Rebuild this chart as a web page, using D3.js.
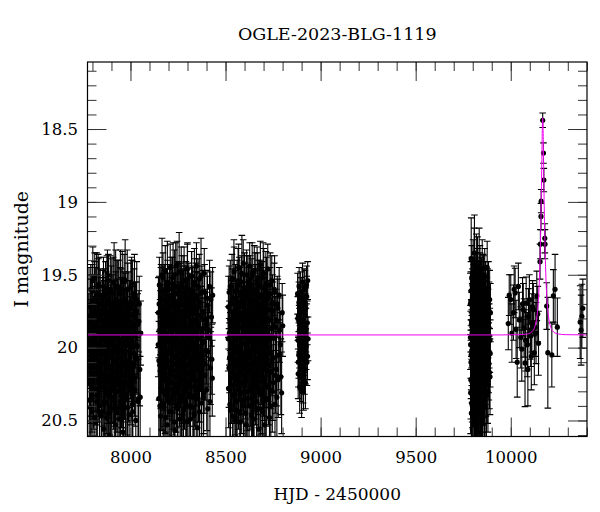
<!DOCTYPE html>
<html><head><meta charset="utf-8">
<script src="https://cdn.jsdelivr.net/npm/d3@7"></script>
<style>body{margin:0;background:#fff} svg{display:block} text{font-family:"DejaVu Serif",serif;fill:#000}</style>
</head><body><svg id="c" width="600" height="512"></svg>
<script>
const title = "OGLE-2023-BLG-1119";
const xLabel = "HJD - 2450000";
const yLabel = "I magnitude";
const xMajorTicks = [8000, 8500, 9000, 9500, 10000];
const yMajorTicks = [18.5, 19, 19.5, 20, 20.5];

// [HJD-2450000, I mag, error]
const season1 = [[7781,19.83,.20],[7783,20.36,.28],[7786,19.95,.22],[7788,20.21,.26],[7790,19.72,.19],[7792,20.05,.23],[7795,19.88,.21],[7797,20.44,.30],[7799,19.61,.18],[7801,20.12,.25],[7803,19.93,.22],[7806,20.29,.27],[7808,19.78,.20],[7810,20.02,.23],[7812,19.52,.17],[7814,20.18,.26],[7816,19.86,.21],[7819,20.51,.32],[7821,19.97,.22],[7823,19.69,.19],[7825,20.33,.28],[7827,19.90,.21],[7829,20.08,.24],[7831,19.57,.18],[7833,20.24,.27],[7835,19.81,.20],[7837,20.40,.30],[7839,19.99,.22],[7841,19.64,.18],[7843,20.15,.25],[7845,19.75,.20],[7847,20.47,.31],[7849,19.91,.22],[7851,20.27,.27],[7853,19.66,.19],[7855,20.04,.23],[7857,19.85,.21],[7859,20.56,.33],[7861,19.73,.19],[7863,20.19,.26],[7865,19.94,.22],[7867,20.38,.29],[7869,19.59,.18],[7871,20.10,.24],[7873,19.80,.20],[7875,20.31,.28],[7877,19.96,.22],[7879,19.50,.17],[7881,20.22,.26],[7883,19.87,.21],[7885,20.45,.30],[7887,19.70,.19],[7889,20.06,.24],[7891,19.92,.22],[7893,20.60,.34],[7895,19.77,.20],[7897,20.14,.25],[7899,19.62,.18],[7901,20.34,.29],[7903,19.98,.22],[7905,19.84,.21],[7907,20.25,.27],[7909,19.55,.17],[7911,20.09,.24],[7913,19.89,.21],[7915,20.42,.30],[7917,19.74,.20],[7919,20.01,.23],[7921,20.53,.32],[7923,19.67,.19],[7925,20.17,.25],[7927,19.93,.22],[7929,20.30,.28],[7931,19.79,.20],[7933,19.58,.18],[7935,20.20,.26],[7937,19.95,.22],[7939,20.49,.31],[7941,19.82,.21],[7943,20.07,.24],[7946,19.63,.18],[7948,20.37,.29],[7950,19.90,.22],[7952,20.13,.25],[7954,19.71,.19],[7956,20.28,.27],[7958,19.97,.22],[7960,20.58,.33],[7962,19.76,.20],[7964,20.03,.23],[7967,19.53,.17],[7969,20.23,.26],[7971,19.88,.21],[7973,20.41,.30],[7975,19.68,.19],[7977,20.11,.25],[7980,19.94,.22],[7982,20.32,.28],[7984,19.80,.20],[7986,19.60,.18],[7989,20.16,.25],[7991,19.91,.22],[7993,20.46,.31],[7996,19.73,.19],[7998,20.05,.23],[8001,19.86,.21],[8003,20.26,.27],[8006,19.56,.18],[8008,20.00,.23],[8011,20.39,.29],[8013,19.78,.20],[8016,20.12,.25],[8019,19.65,.19],[8022,20.21,.26],[8025,19.92,.22],[8028,20.50,.32],[8031,19.75,.20],[8034,20.08,.24],[8038,19.84,.21],[8042,20.35,.29],[8046,19.70,.19],[8051,20.34,.28],[8054,19.90,.22]];

const season1b = [[7780,20.02,.24],[7782,19.71,.26],[7785,20.25,.27],[7787,19.88,.21],[7789,20.41,.35],[7791,19.60,.17],[7794,20.13,.22],[7796,19.79,.29],[7798,20.33,.25],[7800,19.94,.19],[7802,19.54,.23],[7805,20.19,.30],[7807,19.85,.18],[7809,20.48,.34],[7811,19.67,.26],[7813,20.07,.20],[7815,19.76,.31],[7818,20.29,.24],[7820,19.99,.21],[7822,19.63,.28],[7824,20.37,.27],[7826,19.82,.16],[7828,20.10,.33],[7830,19.58,.22],[7832,20.22,.25],[7834,19.91,.20],[7836,19.70,.32],[7838,20.44,.29],[7840,19.87,.24],[7842,20.04,.19],[7846,20.04,.26],[7848,19.87,.22],[7850,20.44,.31],[7852,19.70,.18],[7854,19.91,.27],[7856,20.22,.23],[7858,19.58,.20],[7860,20.10,.29],[7862,19.82,.24],[7864,20.37,.34],[7866,19.63,.17],[7868,19.99,.25],[7870,20.29,.21],[7872,19.76,.28],[7874,20.07,.19],[7876,19.67,.30],[7878,20.48,.26],[7880,19.85,.22],[7882,20.19,.33],[7884,19.54,.18],[7886,19.94,.24],[7888,20.33,.27],[7890,19.79,.20],[7892,20.13,.31],[7894,19.60,.23],[7896,20.41,.29],[7898,19.88,.19],[7900,20.25,.26],[7902,19.71,.32],[7904,20.02,.21],[7906,20.07,.24],[7908,19.76,.26],[7910,20.29,.27],[7912,19.99,.21],[7914,19.63,.35],[7916,20.37,.17],[7918,19.82,.22],[7920,20.10,.29],[7922,19.58,.25],[7924,20.22,.19],[7926,19.91,.23],[7928,19.70,.30],[7930,20.44,.18],[7932,19.87,.34],[7934,20.04,.26],[7936,20.02,.20],[7938,19.71,.31],[7940,20.25,.24],[7942,19.88,.21],[7944,20.41,.28],[7947,19.60,.27],[7949,20.13,.16],[7951,19.79,.33],[7953,20.33,.22],[7955,19.94,.25],[7957,19.54,.20],[7959,20.19,.32],[7961,19.85,.29],[7963,20.48,.24],[7965,19.67,.19],[7968,19.85,.25],[7970,20.19,.21],[7972,19.54,.28],[7974,19.94,.22],[7976,20.33,.30],[7979,19.79,.19],[7981,20.13,.24],[7983,19.60,.27],[7985,20.41,.33],[7988,19.88,.20],[7990,20.25,.26],[7992,19.71,.23],[7995,20.02,.29],[7997,19.82,.21],[8000,20.10,.25],[8002,19.58,.18],[8005,20.22,.28],[8007,19.91,.22],[8010,19.70,.30],[8012,20.44,.32],[8015,19.87,.24],[8018,20.04,.20],[8021,19.63,.27],[8024,20.29,.25],[8027,19.76,.21],[8030,20.07,.24],[8033,19.67,.26],[8036,19.99,.22],[8040,20.37,.29],[8044,19.82,.21],[8049,20.15,.25]];

const season2 = [[8146,19.98,.22],[8149,20.35,.28],[8151,19.70,.19],[8154,20.12,.24],[8156,19.88,.21],[8158,20.47,.31],[8161,19.61,.18],[8163,20.05,.23],[8165,19.79,.20],[8167,20.30,.27],[8169,19.93,.22],[8171,19.52,.17],[8173,20.18,.25],[8175,19.84,.21],[8177,20.41,.30],[8179,19.68,.19],[8181,20.00,.23],[8183,19.47,.17],[8185,20.30,.28],[8187,19.90,.22],[8189,20.09,.24],[8191,19.74,.20],[8193,20.53,.32],[8195,19.58,.18],[8197,20.21,.26],[8199,19.96,.22],[8201,19.81,.21],[8203,20.37,.29],[8205,19.65,.19],[8207,20.14,.25],[8209,19.45,.16],[8211,20.02,.23],[8213,19.87,.21],[8215,20.44,.30],[8217,19.72,.20],[8219,20.24,.26],[8221,19.56,.18],[8223,19.94,.22],[8225,20.32,.28],[8227,19.77,.20],[8229,20.07,.24],[8231,19.50,.17],[8233,20.57,.33],[8235,19.85,.21],[8237,20.16,.25],[8239,19.63,.18],[8241,19.99,.22],[8243,20.28,.27],[8245,19.43,.16],[8247,19.91,.22],[8249,20.39,.29],[8251,19.75,.20],[8253,20.11,.24],[8255,19.59,.18],[8257,20.20,.26],[8259,19.83,.21],[8261,20.49,.31],[8263,19.69,.19],[8265,20.03,.23],[8267,19.48,.17],[8269,20.33,.28],[8271,19.89,.22],[8273,19.66,.19],[8275,20.13,.25],[8277,19.97,.22],[8279,20.43,.30],[8281,19.54,.17],[8283,20.23,.26],[8285,19.80,.20],[8287,20.06,.24],[8289,19.62,.18],[8291,20.36,.29],[8293,19.92,.22],[8295,19.73,.20],[8297,20.17,.25],[8299,19.46,.17],[8301,20.51,.32],[8303,19.86,.21],[8305,20.01,.23],[8307,19.60,.18],[8309,20.27,.27],[8311,19.95,.22],[8313,19.71,.19],[8315,20.40,.30],[8317,19.82,.21],[8319,20.10,.24],[8321,19.51,.17],[8323,20.22,.26],[8325,19.88,.21],[8327,19.64,.19],[8329,20.34,.28],[8331,19.98,.22],[8333,19.76,.20],[8335,20.46,.31],[8337,19.57,.18],[8339,20.08,.24],[8341,19.90,.22],[8343,20.29,.27],[8345,19.67,.19],[8347,19.44,.16],[8349,20.15,.25],[8352,19.84,.21],[8354,20.55,.33],[8357,19.72,.20],[8359,20.04,.23],[8362,19.53,.17],[8364,20.25,.26],[8367,19.94,.22],[8370,19.78,.20],[8373,20.38,.29],[8376,19.62,.18],[8379,20.12,.24],[8382,19.87,.21],[8385,20.31,.28],[8388,19.49,.17],[8391,20.19,.26],[8395,19.81,.21],[8399,20.02,.23],[8403,19.66,.19],[8407,20.42,.30],[8411,19.93,.22],[8416,19.58,.18],[8421,20.14,.25],[8426,19.79,.20],[8430,20.21,.26],[8432,19.64,.19]];

const season2b = [[8147,19.76,.24],[8150,20.09,.27],[8152,19.57,.19],[8155,20.40,.32],[8157,19.83,.22],[8159,20.16,.26],[8160,19.66,.21],[8162,20.27,.29],[8164,19.95,.23],[8166,19.50,.25],[8168,20.06,.24],[8170,19.74,.30],[8172,20.38,.28],[8174,19.89,.20],[8176,20.21,.33],[8178,19.61,.18],[8180,19.99,.25],[8182,20.32,.27],[8184,19.79,.22],[8186,20.48,.34],[8188,19.68,.19],[8190,20.12,.26],[8192,19.92,.21],[8194,19.55,.28],[8196,20.25,.24],[8198,19.85,.20],[8200,20.03,.31],[8202,19.72,.23],[8204,20.44,.29],[8206,19.60,.17],[8208,20.18,.25],[8210,19.88,.22],[8212,20.35,.30],[8214,19.64,.26],[8216,20.00,.19],[8218,19.77,.33],[8220,20.29,.27],[8222,19.97,.21],[8224,19.52,.24],[8226,20.11,.28],[8228,19.82,.22],[8230,20.51,.32],[8232,19.69,.20],[8234,20.20,.25],[8236,19.93,.23],[8238,19.58,.30],[8240,20.31,.27],[8242,19.86,.18],[8244,20.05,.24],[8246,19.73,.29],[8248,20.42,.31],[8250,19.62,.21],[8252,20.15,.26],[8254,19.90,.22],[8256,19.48,.27],[8258,20.26,.28],[8260,19.80,.20],[8262,20.08,.33],[8264,19.66,.24],[8266,20.36,.27],[8268,19.96,.22],[8270,19.56,.19],[8272,20.22,.30],[8274,19.84,.21],[8276,20.46,.34],[8278,19.71,.25],[8280,20.01,.23],[8282,19.59,.28],[8284,20.30,.26],[8286,19.91,.20],[8288,19.75,.31],[8290,20.17,.24],[8292,19.63,.22],[8294,20.39,.29],[8296,19.87,.21],[8298,20.04,.27],[8300,19.53,.25],[8302,20.24,.26],[8304,19.78,.32],[8306,20.12,.23],[8308,19.94,.22],[8310,19.67,.18],[8312,20.33,.28],[8314,19.83,.24],[8316,20.49,.33],[8318,19.70,.20],[8320,20.07,.25],[8322,19.61,.27],[8324,20.19,.26],[8326,19.98,.21],[8328,19.74,.30],[8330,20.41,.29],[8332,19.88,.22],[8334,20.02,.24],[8336,19.55,.23],[8338,20.27,.27],[8340,19.81,.20],[8342,20.13,.31],[8344,19.64,.22],[8346,20.35,.28],[8348,19.92,.21],[8350,19.73,.25],[8353,20.09,.26],[8355,19.58,.19],[8358,20.23,.28],[8360,19.86,.22],[8363,20.44,.32],[8365,19.69,.20],[8368,20.06,.24],[8371,19.51,.26],[8374,20.18,.27],[8377,19.90,.21],[8380,19.76,.29],[8383,20.34,.28],[8386,19.96,.22],[8390,19.62,.19],[8393,20.11,.25],[8397,19.84,.22],[8401,20.29,.28],[8405,19.71,.20],[8409,20.03,.24],[8413,19.88,.21],[8418,20.37,.30],[8423,19.67,.19],[8428,20.08,.24]];

const season3 = [[8514,19.94,.22],[8516,20.28,.27],[8519,19.62,.18],[8521,20.07,.24],[8524,19.81,.21],[8526,20.43,.30],[8529,19.70,.19],[8531,20.15,.25],[8534,19.53,.17],[8536,19.96,.22],[8538,20.33,.28],[8541,19.76,.20],[8543,20.02,.23],[8545,19.48,.17],[8547,20.21,.26],[8549,19.89,.22],[8551,20.50,.32],[8553,19.66,.19],[8555,20.11,.24],[8557,19.84,.21],[8559,20.37,.29],[8561,19.58,.18],[8563,19.99,.22],[8565,20.25,.27],[8567,19.73,.20],[8569,19.45,.16],[8571,20.08,.24],[8573,19.92,.22],[8575,20.45,.31],[8577,19.64,.19],[8579,20.18,.25],[8581,19.86,.21],[8583,19.55,.18],[8585,20.31,.28],[8587,19.97,.22],[8589,19.78,.20],[8591,20.04,.23],[8593,19.42,.16],[8595,20.40,.30],[8597,19.69,.19],[8599,20.13,.25],[8601,19.90,.22],[8603,19.60,.18],[8605,20.23,.26],[8607,19.82,.21],[8609,20.53,.32],[8611,19.50,.17],[8613,20.00,.23],[8615,19.75,.20],[8617,20.35,.29],[8619,19.93,.22],[8621,19.63,.18],[8623,20.16,.25],[8625,19.87,.21],[8627,19.44,.16],[8629,20.29,.27],[8631,19.71,.19],[8633,20.06,.24],[8635,19.95,.22],[8637,20.47,.31],[8639,19.57,.18],[8641,20.19,.26],[8643,19.80,.21],[8645,19.67,.19],[8647,20.38,.29],[8649,19.98,.22],[8651,19.47,.17],[8653,20.10,.24],[8655,19.85,.21],[8657,20.26,.27],[8659,19.61,.18],[8661,20.03,.23],[8663,19.74,.20],[8665,20.42,.30],[8667,19.91,.22],[8669,19.52,.17],[8671,20.20,.26],[8673,19.79,.20],[8675,20.56,.33],[8677,19.65,.19],[8679,20.09,.24],[8681,19.88,.21],[8683,19.43,.16],[8685,20.32,.28],[8687,19.96,.22],[8689,19.72,.20],[8691,20.14,.25],[8693,19.59,.18],[8695,20.44,.30],[8697,19.83,.21],[8699,20.01,.23],[8701,19.49,.17],[8703,20.24,.26],[8705,19.94,.22],[8707,19.68,.19],[8709,20.36,.29],[8711,19.77,.20],[8713,20.05,.23],[8715,19.56,.18],[8717,20.27,.27],[8720,19.90,.22],[8722,19.46,.17],[8725,20.12,.25],[8728,19.81,.21],[8731,20.48,.31],[8734,19.63,.18],[8737,20.17,.25],[8740,19.92,.22],[8743,19.54,.17],[8746,20.30,.28],[8749,19.75,.20],[8752,20.07,.24],[8756,19.60,.18],[8760,20.39,.29],[8764,19.86,.21],[8768,20.15,.25],[8772,19.70,.19],[8777,20.22,.26],[8782,19.64,.19],[8788,19.98,.22],[8795,20.31,.28],[8801,19.85,.21]];

const season3b = [[8515,19.72,.21],[8518,20.14,.27],[8520,19.90,.22],[8523,20.39,.31],[8525,19.58,.18],[8527,20.05,.24],[8530,19.83,.29],[8532,20.26,.26],[8535,19.66,.20],[8537,19.98,.23],[8539,20.47,.33],[8540,19.77,.21],[8542,20.19,.25],[8544,19.53,.27],[8546,20.09,.24],[8548,19.87,.22],[8550,20.32,.28],[8552,19.61,.18],[8554,19.95,.30],[8556,20.22,.26],[8558,19.74,.20],[8560,20.43,.32],[8562,19.86,.21],[8564,20.02,.24],[8566,19.57,.25],[8568,20.29,.27],[8570,19.92,.22],[8572,19.69,.31],[8574,20.12,.25],[8576,19.81,.20],[8578,20.51,.33],[8580,19.63,.19],[8582,20.17,.26],[8584,19.97,.22],[8586,19.49,.26],[8588,20.24,.27],[8590,19.85,.21],[8592,20.07,.29],[8594,19.71,.20],[8596,20.36,.28],[8598,19.93,.22],[8600,19.59,.24],[8602,20.20,.26],[8604,19.78,.20],[8606,20.45,.31],[8608,19.89,.22],[8610,20.03,.24],[8612,19.65,.28],[8614,20.30,.27],[8616,19.96,.22],[8618,19.55,.18],[8620,20.11,.30],[8622,19.84,.21],[8624,20.40,.29],[8626,19.73,.20],[8628,20.06,.25],[8630,19.60,.23],[8632,20.27,.27],[8634,19.91,.22],[8636,19.76,.32],[8638,20.15,.25],[8640,19.50,.22],[8642,20.34,.28],[8644,19.88,.21],[8646,20.01,.24],[8648,19.68,.19],[8650,20.49,.32],[8652,19.82,.21],[8654,20.18,.26],[8656,19.62,.27],[8658,19.99,.22],[8660,20.23,.26],[8662,19.79,.20],[8664,20.37,.29],[8666,19.56,.25],[8668,20.08,.24],[8670,19.94,.22],[8672,19.70,.30],[8674,20.28,.27],[8676,19.86,.21],[8678,20.04,.24],[8680,19.58,.18],[8682,20.42,.30],[8684,19.92,.22],[8686,19.75,.28],[8688,20.13,.25],[8690,19.64,.19],[8692,20.31,.28],[8694,19.89,.21],[8696,20.00,.23],[8698,19.52,.24],[8700,20.21,.26],[8702,19.83,.20],[8704,20.53,.33],[8706,19.72,.20],[8708,20.10,.24],[8710,19.97,.22],[8712,19.61,.27],[8714,20.35,.28],[8716,19.80,.21],[8718,20.16,.25],[8721,19.66,.19],[8723,19.95,.30],[8726,20.26,.27],[8729,19.74,.20],[8732,20.04,.24],[8735,19.57,.22],[8738,20.40,.29],[8741,19.87,.21],[8744,20.09,.24],[8747,19.69,.19],[8750,20.24,.26],[8754,19.93,.22],[8758,19.62,.25],[8762,20.19,.26],[8766,19.81,.21],[8770,20.34,.28],[8775,19.73,.20],[8780,20.05,.24],[8785,19.88,.22],[8791,20.20,.26],[8798,19.76,.20]];

const season4 = [[8879,19.63,.14],[8880,19.80,.15],[8881,19.95,.15],[8882,20.18,.17],[8883,20.10,.17],[8884,19.78,.14],[8885,20.05,.16],[8886,19.69,.14],[8887,19.58,.13],[8888,19.88,.15],[8889,19.98,.16],[8890,20.27,.18],[8891,19.71,.14],[8892,20.20,.17],[8893,20.00,.16],[8894,19.84,.15],[8895,19.62,.14],[8896,20.12,.17],[8897,19.66,.14],[8898,20.04,.16],[8899,19.92,.15],[8900,20.30,.18],[8901,19.86,.15],[8902,19.75,.14],[8903,20.08,.16],[8904,20.14,.17],[8905,19.55,.13],[8906,19.97,.15],[8907,19.74,.14],[8908,20.21,.17],[8909,19.81,.15],[8910,20.25,.18],[8911,19.69,.14],[8912,20.03,.16],[8913,19.59,.13],[8914,19.90,.15],[8915,20.15,.17],[8916,20.01,.16],[8917,19.60,.13],[8918,19.86,.15],[8919,19.78,.15],[8920,20.24,.18],[8921,20.09,.16],[8922,19.73,.14],[8923,19.88,.15],[8924,19.99,.16],[8926,19.57,.13],[8927,19.65,.14],[8928,20.10,.16],[8930,19.83,.15],[8931,20.06,.16],[8932,19.54,.13],[8934,19.94,.15]];

const season5 = [[9788,19.93,.22],[9789,20.31,.28],[9790,19.68,.20],[9791,20.10,.25],[9792,19.39,.28],[9793,20.45,.31],[9794,19.82,.21],[9795,20.02,.24],[9796,19.57,.19],[9797,20.24,.27],[9798,19.90,.22],[9799,20.56,.33],[9800,19.73,.20],[9801,20.15,.25],[9802,19.48,.22],[9803,19.97,.22],[9804,20.36,.29],[9805,19.62,.19],[9806,20.07,.24],[9807,19.86,.21],[9808,20.50,.32],[9809,19.35,.26],[9810,19.78,.20],[9811,20.19,.26],[9812,19.95,.22],[9813,19.55,.19],[9814,20.40,.30],[9815,19.70,.20],[9816,20.04,.24],[9817,19.88,.21],[9818,20.28,.27],[9819,19.44,.22],[9820,19.99,.22],[9821,20.12,.25],[9822,19.65,.19],[9823,20.53,.33],[9824,19.80,.21],[9825,20.21,.26],[9826,19.50,.18],[9827,19.92,.22],[9828,20.34,.28],[9829,19.75,.20],[9830,20.06,.24],[9831,19.60,.19],[9832,20.43,.31],[9833,19.84,.21],[9834,19.42,.24],[9835,20.17,.25],[9836,19.96,.22],[9837,19.71,.20],[9838,20.26,.27],[9839,19.53,.18],[9840,20.01,.23],[9841,20.58,.34],[9842,19.87,.21],[9843,19.66,.19],[9844,20.13,.25],[9845,19.91,.22],[9846,20.38,.29],[9847,19.58,.19],[9848,19.79,.21],[9849,20.09,.24],[9850,19.46,.20],[9851,20.30,.28],[9852,19.94,.22],[9853,19.69,.20],[9854,20.48,.32],[9855,19.83,.21],[9856,20.03,.24],[9857,19.56,.19],[9858,20.22,.26],[9859,19.89,.22],[9861,19.74,.20],[9862,20.14,.25],[9863,19.51,.19],[9865,20.41,.30],[9866,19.97,.22],[9868,19.63,.19],[9869,20.08,.24],[9871,19.85,.21],[9872,20.33,.28],[9874,19.72,.20],[9876,19.45,.18],[9877,20.00,.23],[9879,20.25,.27],[9881,19.81,.21],[9883,19.59,.18],[9885,20.11,.25],[9887,19.92,.22],[9889,19.67,.20],[9891,20.20,.26],[9893,19.76,.20]];

const season5b = [[9788,19.70,.21],[9789,19.98,.23],[9790,20.22,.27],[9791,19.61,.20],[9792,20.05,.24],[9793,19.84,.22],[9794,20.38,.30],[9795,19.52,.22],[9796,20.13,.25],[9797,19.77,.21],[9798,20.27,.28],[9799,19.66,.20],[9800,20.47,.32],[9801,19.89,.22],[9802,20.09,.24],[9803,19.58,.19],[9804,19.93,.22],[9805,20.31,.28],[9806,19.74,.20],[9807,20.18,.26],[9808,19.43,.25],[9809,20.01,.23],[9810,20.42,.31],[9811,19.81,.21],[9812,19.64,.19],[9813,20.24,.27],[9814,19.96,.22],[9815,20.55,.33],[9816,19.72,.20],[9817,20.11,.25],[9818,19.54,.19],[9819,19.90,.22],[9820,20.35,.29],[9821,19.79,.21],[9822,20.04,.23],[9823,19.68,.20],[9824,20.20,.26],[9825,19.47,.23],[9826,20.46,.31],[9827,19.86,.21],[9828,20.08,.24],[9829,19.59,.19],[9830,20.29,.28],[9831,19.94,.22],[9832,19.75,.20],[9833,20.16,.25],[9834,19.63,.19],[9835,20.39,.30],[9836,19.83,.21],[9837,20.00,.23],[9838,19.50,.20],[9839,20.23,.26],[9840,19.88,.22],[9841,19.70,.20],[9842,20.12,.25],[9843,20.44,.31],[9844,19.57,.19],[9845,19.97,.22],[9846,20.19,.26],[9847,19.80,.21],[9848,20.33,.28],[9849,19.65,.20],[9850,20.03,.23],[9851,19.91,.22],[9852,20.52,.33],[9853,19.73,.20],[9854,20.10,.24],[9855,19.55,.19],[9856,20.26,.27],[9857,19.85,.21],[9858,20.06,.23],[9860,19.69,.20],[9862,20.36,.29],[9864,19.93,.22],[9866,20.14,.25],[9867,19.60,.19],[9870,20.21,.26],[9873,19.82,.21],[9875,20.02,.23],[9878,19.66,.20],[9880,20.30,.28],[9882,19.89,.22],[9884,20.07,.24],[9886,19.75,.20],[9888,20.17,.25],[9890,19.95,.22],[9892,20.04,.23]];

const season6 = [[9987,19.835,.18],[9992,19.64,.14],[10000,19.67,.17],[10006,19.90,.20],[10014,19.76,.19],[10018,19.60,.16],[10023,19.625,.17],[10028,19.875,.20],[10034,20.10,.24],[10040,19.58,.16],[10045,19.81,.19],[10053,19.93,.21],[10058,20.01,.22],[10062,19.70,.18],[10066,19.74,.18],[10070,19.865,.20],[10075,20.105,.30],[10078,19.95,.21],[10081,19.695,.18],[10087,19.98,.22],[10090,20.15,.25],[10093,19.785,.19],[10098,19.67,.17],[10102,19.88,.20],[10105,19.92,.21],[10108,20.06,.23],[10111,19.83,.20],[10115,19.72,.18],[10119,19.74,.18],[10124,20.035,.22],[10128,19.86,.20],[10133,19.90,.21],[10137,19.645,.17],[10142,19.77,.19],[10146,19.97,.22]];

const peak = [[10154,19.41,.12],[10156,19.29,.10],[10159,19.10,.09],[10160,18.995,.08],[10168,18.44,.05],[10172,18.665,.07],[10174,18.85,.08],[10179,19.25,.10],[10180,19.29,.10]];

const season6b = [[10189,19.715,.16],[10195,20.035,.38],[10216,20.05,.22],[10224,19.645,.18],[10233,19.60,.24],[10245,19.86,.20]];

const season7 = [[10365,19.825,.25],[10370,19.88,.24],[10374,19.785,.22],[10379,19.73,.20]];

// model light curve
const modelT = [7774,9950,10050,10088,10108,10118,10128,10138,10143,10148,10150,10152,10154,10156,10158,10160,10161,10162,10163,10164,10165,10166,10167,10168,10169,10170,10171,10172,10173,10174,10175,10176,10178,10180,10182,10184,10186,10188,10193,10198,10208,10218,10228,10248,10286,10401];
const modelMag = [19.913,19.913,19.911,19.906,19.895,19.881,19.851,19.782,19.717,19.612,19.555,19.485,19.40,19.297,19.172,19.023,18.939,18.849,18.755,18.66,18.571,18.495,18.442,18.423,18.442,18.495,18.571,18.66,18.755,18.849,18.939,19.023,19.172,19.297,19.40,19.485,19.555,19.612,19.717,19.782,19.851,19.881,19.895,19.906,19.911,19.913];

const W = 600, H = 512;
const m = {l: 87.5, r: 13, t: 62, b: 75.5};
const x = d3.scaleLinear().domain([7774, 10401]).range([m.l, W - m.r]);
const y = d3.scaleLinear().domain([18.04, 20.61]).range([m.t, H - m.b]);
const svg = d3.select("#c");

svg.append("defs").append("clipPath").attr("id", "clip")
  .append("rect").attr("x", m.l).attr("y", m.t)
  .attr("width", W - m.r - m.l).attr("height", H - m.b - m.t);

const pts = [].concat(season1, season1b, season2, season2b, season3, season3b, season4,
  season5, season5b, season6, peak, season6b, season7);
const gData = svg.append("g").attr("clip-path", "url(#clip)");
const cap = 3.3;
gData.selectAll("path.eb").data(pts).join("path").attr("class", "eb")
  .attr("d", d => {
    const px = x(d[0]), y1 = y(d[1] - d[2]), y2 = y(d[1] + d[2]);
    return `M${px},${y1}V${y2}M${px - cap},${y1}h${2 * cap}M${px - cap},${y2}h${2 * cap}`;
  })
  .attr("stroke", "#000").attr("stroke-width", 1.1).attr("fill", "none");
gData.selectAll("circle").data(pts).join("circle")
  .attr("cx", d => x(d[0])).attr("cy", d => y(d[1])).attr("r", 2.6).attr("fill", "#000");

const model = modelT.map((t, i) => [t, modelMag[i]]);
gData.append("path").datum(model)
  .attr("d", d3.line().x(d => x(d[0])).y(d => y(d[1])).curve(d3.curveMonotoneX))
  .attr("fill", "none").attr("stroke", "#f000f0").attr("stroke-width", 1);

// axes (inward ticks on all four sides)
const xMinor = d3.range(7800, 10401, 100);
const yMinor = d3.range(181, 207).map(v => v / 10);
const fs = "16.5px";
function styleAxis(g) {
  g.select(".domain").remove();
  g.selectAll(".tick line").attr("stroke", "#333").attr("stroke-width", 1);
  g.selectAll("text").style("font-family", '"DejaVu Serif", serif').style("font-size", fs).attr("fill", "#000");
}
const bottom = H - m.b, right = W - m.r;
svg.append("g").attr("transform", `translate(0,${bottom})`)
  .call(d3.axisBottom(x).tickValues(xMinor).tickSize(-9).tickFormat("")).call(styleAxis);
svg.append("g").attr("transform", `translate(0,${bottom})`)
  .call(d3.axisBottom(x).tickValues(xMajorTicks).tickSize(-19).tickPadding(14.5).tickFormat(d3.format("d"))).call(styleAxis);
svg.append("g").attr("transform", `translate(0,${m.t})`)
  .call(d3.axisTop(x).tickValues(xMinor).tickSize(-9).tickFormat("")).call(styleAxis);
svg.append("g").attr("transform", `translate(0,${m.t})`)
  .call(d3.axisTop(x).tickValues(xMajorTicks).tickSize(-19).tickFormat("")).call(styleAxis);
svg.append("g").attr("transform", `translate(${m.l},0)`)
  .call(d3.axisLeft(y).tickValues(yMinor).tickSize(-9).tickFormat("")).call(styleAxis);
svg.append("g").attr("transform", `translate(${m.l},0)`)
  .call(d3.axisLeft(y).tickValues(yMajorTicks).tickSize(-19).tickPadding(9.5).tickFormat(d => String(d))).call(styleAxis);
svg.append("g").attr("transform", `translate(${right},0)`)
  .call(d3.axisRight(y).tickValues(yMinor).tickSize(-9).tickFormat("")).call(styleAxis);
svg.append("g").attr("transform", `translate(${right},0)`)
  .call(d3.axisRight(y).tickValues(yMajorTicks).tickSize(-19).tickFormat("")).call(styleAxis);

svg.append("rect").attr("x", m.l).attr("y", m.t)
  .attr("width", right - m.l).attr("height", bottom - m.t)
  .attr("fill", "none").attr("stroke", "#000").attr("stroke-width", 1.2);

svg.append("text").attr("x", (m.l + right) / 2).attr("y", 40)
  .attr("text-anchor", "middle").style("font-size", "17.5px").text(title);
svg.append("text").attr("x", (m.l + right) / 2).attr("y", 500)
  .attr("text-anchor", "middle").style("font-size", "17px").text(xLabel);
svg.append("text").attr("transform", `translate(28,${(m.t + bottom) / 2}) rotate(-90)`)
  .attr("text-anchor", "middle").style("font-size", "19px").text(yLabel);
</script></body></html>
